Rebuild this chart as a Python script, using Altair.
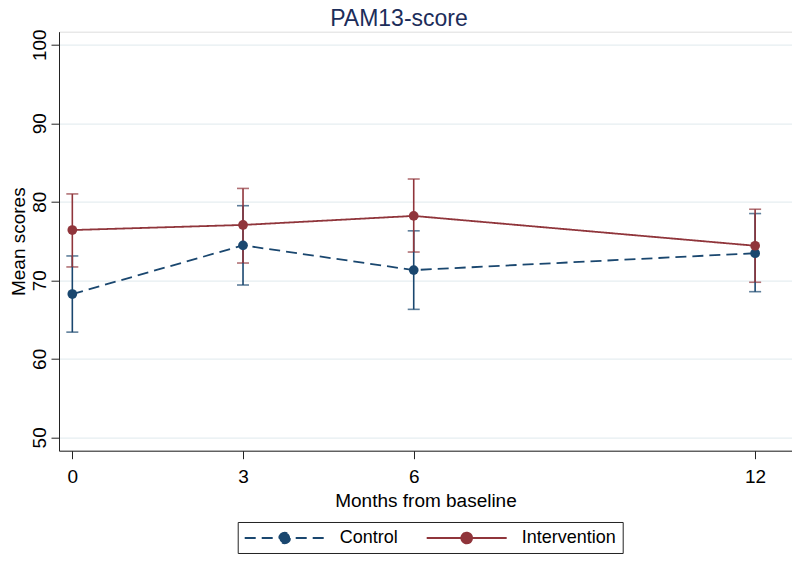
import altair as alt
import pandas as pd

months = [0, 3, 6, 12]
groups = ["Control", "Intervention"]
control_mean = [68.25, 74.45, 71.3, 73.45]
control_lo = [63.4, 69.4, 66.3, 68.55]
control_hi = [73.1, 79.5, 76.3, 78.5]
interv_mean = [76.4, 77.05, 78.2, 74.4]
interv_lo = [71.7, 72.2, 73.6, 69.75]
interv_hi = [81.0, 81.7, 82.9, 79.05]
y_ticks = [50, 60, 70, 80, 90, 100]

rows = []
for g, m, lo, hi in [("Control", control_mean, control_lo, control_hi),
                     ("Intervention", interv_mean, interv_lo, interv_hi)]:
    for i, x in enumerate(months):
        rows.append({"month": x, "group": g, "mean": m[i], "lo": lo[i], "hi": hi[i]})
df = pd.DataFrame(rows)

NAVY = "#1a476f"
MAROON = "#90353b"
FONT = "Liberation Sans"

color_scale = alt.Scale(domain=groups, range=[NAVY, MAROON])
dash_scale = alt.Scale(domain=groups, range=[[11, 6], [1, 0]])

legend_path = ("M-4.444,0H4.444"
               "M-0.6,0A0.6,0.6,0,1,1,0.6,0A0.6,0.6,0,1,1,-0.6,0Z")

legend = alt.Legend(
    title=None, orient="none", legendX=178.7, legendY=490.3,
    direction="horizontal", columns=2,
    symbolType=legend_path, symbolSize=324, symbolStrokeWidth=1.8,
    symbolOffset=31, labelOffset=45, columnPadding=24, symbolOpacity=1,
    labelFont=FONT, labelFontSize=18, labelColor="black",
    strokeColor="#222222", fillColor="white", padding=6, cornerRadius=0,
)

x_enc = alt.X("month:Q", scale=alt.Scale(domain=[-0.234, 12.648], nice=False, zero=False),
              axis=alt.Axis(values=months, title="Months from baseline", grid=False,
                            tickSize=8, labelPadding=9, titlePadding=5,
                            labelFontSize=19, titleFontSize=19,
                            labelFont=FONT, titleFont=FONT,
                            titleFontWeight="normal", labelColor="black", titleColor="black",
                            domainColor="#222222", tickColor="#222222",
                            labelFlush=False))
y_scale = alt.Scale(domain=[48.3, 101.66], nice=False, zero=False)
y_axis = alt.Axis(values=y_ticks, title="Mean scores", grid=True, gridColor="#e6eef1",
                  gridWidth=1.2, tickSize=8, labelAngle=270, labelAlign="center",
                  labelBaseline="bottom", labelPadding=2,
                  titleX=-41, titleY=209.5, titleAngle=270, titleAlign="center",
                  titleBaseline="middle",
                  labelFontSize=19, titleFontSize=19, labelFont=FONT, titleFont=FONT,
                  titleFontWeight="normal", labelColor="black", titleColor="black",
                  domainColor="#222222", tickColor="#222222", labelFlush=False)

base = alt.Chart(df)

bars = base.mark_errorbar(ticks=alt.TickConfig(size=12, thickness=1.6), thickness=1.6).encode(
    x=x_enc,
    y=alt.Y("lo:Q", scale=y_scale, axis=y_axis),
    y2="hi:Q",
    color=alt.Color("group:N", scale=color_scale, legend=legend),
)

lines = base.mark_line(strokeWidth=1.8).encode(
    x=x_enc,
    y=alt.Y("mean:Q", scale=y_scale, axis=y_axis),
    color=alt.Color("group:N", scale=color_scale, legend=legend),
    strokeDash=alt.StrokeDash("group:N", scale=dash_scale, legend=legend),
)

points = base.mark_point(filled=True, size=95, opacity=1).encode(
    x=x_enc,
    y=alt.Y("mean:Q", scale=y_scale, axis=y_axis),
    color=alt.Color("group:N", scale=color_scale, legend=legend),
    fill=alt.Fill("group:N", scale=color_scale, legend=legend),
)

chart = alt.layer(bars, lines, points).properties(
    width=733, height=419,
    title=alt.TitleParams("PAM13-score", fontSize=23, font=FONT, color="#1c2d5a",
                          fontWeight="normal", anchor="middle", dx=-26.5, offset=-2.5),
    autosize=alt.AutoSizeParams(type="none"),
    padding={"left": 51, "top": 23.7, "right": 0, "bottom": 104},
).configure_view(stroke=None).configure(background="white")

chart.save("out.html", embed_options={"renderer": "svg", "actions": False})
